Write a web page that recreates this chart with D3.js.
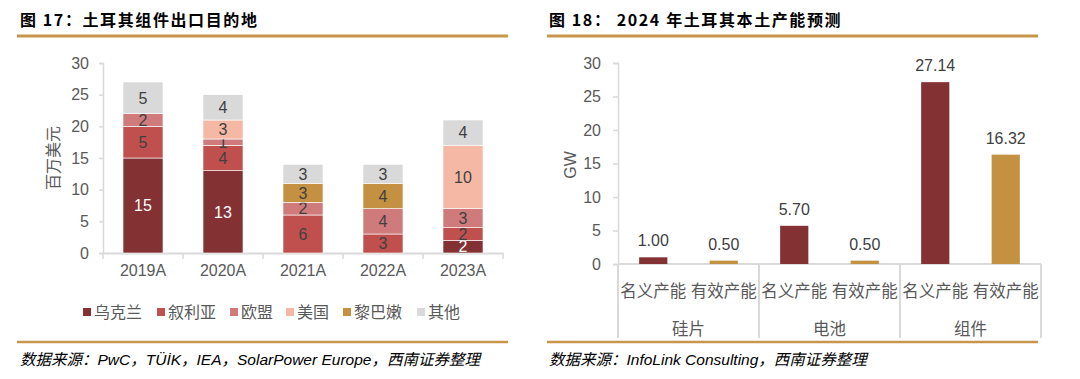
<!DOCTYPE html>
<html><head><meta charset="utf-8">
<script src="https://cdn.jsdelivr.net/npm/d3@7"></script>
<style>
body{margin:0;background:#fff;}
svg{display:block;font-family:"Liberation Sans","Noto Sans CJK SC",sans-serif;}
</style></head>
<body><svg id="c" width="1080" height="379"></svg>
<script>
// ---- Chart 17 data ----
const years = ["2019A","2020A","2021A","2022A","2023A"];
const destinations = ["乌克兰","叙利亚","欧盟","美国","黎巴嫩","其他"];
const ukraine = [15,13,0,0,2];
const syria   = [5,4,6,3,2];
const eu      = [2,1,2,4,3];
const usa     = [0,3,0,0,10];
const lebanon = [0,0,3,4,0];
const others  = [5,4,3,3,4];
const destColors = ["#843134","#c0504d","#cf7b7b","#f4b8a4","#c49042","#d9d9d9"];
const yTicks17 = [0,5,10,15,20,25,30];

// ---- Chart 18 data ----
const groups = ["硅片","电池","组件"];
const capTypes = ["名义产能","有效产能"];
const nominal = [1.00,5.70,27.14];
const effective = [0.50,0.50,16.32];
const capColors = ["#843134","#c49042"];
const yTicks18 = [0,5,10,15,20,25,30];

const svg = d3.select("#c");
const gold = "#c8964a";
const axisCol = "#d9d9d9";
const txtCol = "#595959";
const cjk = "'Noto Sans CJK SC',sans-serif";

function header(x, x1, x2, title, source) {
  svg.append("text").attr("x", x).attr("y", 26).attr("font-size", 16).attr("font-weight", "bold")
    .attr("letter-spacing", 1.6).attr("font-family", cjk).attr("fill", "#000").text(title);
  svg.append("line").attr("x1", x1).attr("x2", x2).attr("y1", 36).attr("y2", 36)
    .attr("stroke", gold).attr("stroke-width", 3);
  svg.append("line").attr("x1", x1).attr("x2", x2).attr("y1", 342).attr("y2", 342)
    .attr("stroke", gold).attr("stroke-width", 2.5);
  svg.append("text").attr("x", x).attr("y", 365).attr("font-size", 15.5).attr("font-style", "italic")
    .attr("fill", "#000").text(source);
}
header(20, 17, 508, "图 17：土耳其组件出口目的地", "数据来源：PwC，TÜİK，IEA，SolarPower Europe，西南证券整理");
header(549, 547, 1038, "图 18：  2024 年土耳其本土产能预测", "数据来源：InfoLink Consulting，西南证券整理");

// ---- Chart 17 ----
{
  const x = d3.scaleBand().domain(years).range([103, 503]).paddingInner(0.5).paddingOuter(0.25);
  const y = d3.scaleLinear().domain([0, 30]).range([253, 63]);
  const g = svg.append("g");
  const series = [ukraine, syria, eu, usa, lebanon, others];
  const rows = years.map((yr, i) => {
    const r = {year: yr};
    destinations.forEach((d, k) => r[d] = series[k][i]);
    return r;
  });
  const stack = d3.stack().keys(destinations)(rows);
  const ya = g.append("g").attr("transform", "translate(103,0)")
    .call(d3.axisLeft(y).tickValues(yTicks17).tickSize(4).tickPadding(10));
  ya.select(".domain").attr("stroke", axisCol).attr("stroke-width", 1.5);
  ya.selectAll("line").attr("stroke", axisCol).attr("stroke-width", 1.5);
  ya.selectAll("text").attr("font-size", 16).attr("fill", txtCol);
  const xa = g.append("g").attr("transform", "translate(0,253)")
    .call(d3.axisBottom(x).tickSize(0).tickPadding(12));
  xa.select(".domain").attr("stroke", axisCol).attr("stroke-width", 2);
  xa.selectAll("text").attr("font-size", 16).attr("fill", txtCol);
  const bounds = d3.range(years.length + 1).map(i => 103 + i * x.step());
  g.selectAll(".bt").data(bounds).join("line").attr("x1", d => d).attr("x2", d => d)
    .attr("y1", 253).attr("y2", 259).attr("stroke", axisCol).attr("stroke-width", 1.5);
  g.append("text").attr("transform", "translate(59,158) rotate(-90)").attr("text-anchor", "middle")
    .attr("font-size", 16).attr("font-family", cjk).attr("fill", txtCol).text("百万美元");
  stack.forEach((s, k) => {
    s.forEach((d, i) => {
      if (d[1] - d[0] <= 0) return;
      g.append("rect").attr("x", x(years[i])).attr("width", x.bandwidth())
        .attr("y", y(d[1])).attr("height", y(d[0]) - y(d[1]))
        .attr("fill", destColors[k]).attr("stroke", "#fff").attr("stroke-width", 0.6);
      g.append("text").attr("x", x(years[i]) + x.bandwidth() / 2).attr("y", (y(d[0]) + y(d[1])) / 2)
        .attr("dy", "0.36em").attr("text-anchor", "middle").attr("font-size", 16)
        .attr("fill", k === 0 ? "#fff" : "#404040").text(d[1] - d[0]);
    });
  });
  const legX = [83, 157, 230, 286, 343, 417];
  destinations.forEach((d, k) => {
    g.append("rect").attr("x", legX[k]).attr("y", 308).attr("width", 8).attr("height", 8).attr("fill", destColors[k]);
    g.append("text").attr("x", legX[k] + 11).attr("y", 312).attr("dy", "0.36em").attr("font-size", 16)
      .attr("font-family", cjk).attr("fill", txtCol).text(d);
  });
}

// ---- Chart 18 ----
{
  const cats = [];
  groups.forEach((gname, gi) => capTypes.forEach((t, ti) => cats.push({g: gname, t, ti, v: ti === 0 ? nominal[gi] : effective[gi], key: gname + t})));
  const x = d3.scaleBand().domain(cats.map(d => d.key)).range([618, 1041]).paddingInner(0.6).paddingOuter(0.3);
  const y = d3.scaleLinear().domain([0, 30]).range([264, 63]);
  const g = svg.append("g");
  const ya = g.append("g").attr("transform", "translate(618,0)")
    .call(d3.axisLeft(y).tickValues(yTicks18).tickSize(5).tickPadding(12));
  ya.select(".domain").attr("stroke", axisCol).attr("stroke-width", 1.5);
  ya.selectAll("line").attr("stroke", axisCol).attr("stroke-width", 1.5);
  ya.selectAll("text").attr("font-size", 16).attr("fill", txtCol);
  g.append("line").attr("x1", 618).attr("x2", 1041).attr("y1", 264).attr("y2", 264)
    .attr("stroke", axisCol).attr("stroke-width", 2);
  const divs = d3.range(groups.length + 1).map(i => 618 + i * 2 * x.step() + 0);
  g.selectAll(".dv").data(divs).join("line").attr("x1", d => d).attr("x2", d => d)
    .attr("y1", 264).attr("y2", 338).attr("stroke", axisCol).attr("stroke-width", 2);
  g.append("text").attr("transform", "translate(576,165) rotate(-90)").attr("text-anchor", "middle")
    .attr("font-size", 16).attr("fill", txtCol).text("GW");
  cats.forEach(d => {
    const cx = x(d.key) + x.bandwidth() / 2;
    g.append("rect").attr("x", x(d.key)).attr("width", x.bandwidth()).attr("y", y(d.v))
      .attr("height", y(0) - y(d.v)).attr("fill", capColors[d.ti]);
    g.append("text").attr("x", cx).attr("y", y(d.v) - 11).attr("text-anchor", "middle")
      .attr("font-size", 16).attr("fill", "#404040").text(d.v.toFixed(2));
    g.append("text").attr("x", cx).attr("y", 291).attr("dy", "0.36em").attr("text-anchor", "middle")
      .attr("font-size", 16.5).attr("font-family", cjk).attr("fill", txtCol).text(d.t);
  });
  groups.forEach((gname, gi) => {
    g.append("text").attr("x", (divs[gi] + divs[gi + 1]) / 2).attr("y", 329).attr("dy", "0.36em")
      .attr("text-anchor", "middle").attr("font-size", 16.5).attr("font-family", cjk).attr("fill", txtCol).text(gname);
  });
}
</script></body></html>
